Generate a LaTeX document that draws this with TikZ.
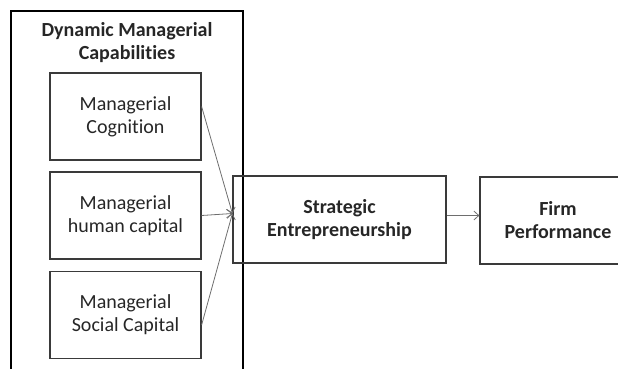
\documentclass[tikz,border=0pt]{standalone}
\usepackage{fontspec}
\setmainfont{Carlito}[Ligatures=NoCommon]
\usetikzlibrary{arrows.meta}
\definecolor{inkgray}{HTML}{3A3A3A}
\definecolor{linkgray}{HTML}{6E6E6E}

\begin{document}
\begin{tikzpicture}[
  x=1pt, y=-1pt,
  capbox/.style ={draw=inkgray, line width=1.2pt, text=black!85,
                  minimum width=151pt, minimum height=87pt,
                  align=center, font=\fontsize{20}{23}\selectfont},
  mainbox/.style={capbox, font=\fontsize{20}{23}\selectfont\bfseries},
  hdr/.style    ={align=center, text=black!85,
                  font=\fontsize{20}{23}\selectfont\bfseries},
  frame/.style  ={draw=black, line width=1.4pt},
  link/.style   ={-{Straight Barb[open, length=5pt, width=9pt]},
                  line width=0.8pt, linkgray},
]
\useasboundingbox (0,0) rectangle (618,369);
\clip (0,0) rectangle (618,369);

% ---------------- left column: the capabilities ----------------
\draw[frame] (11,372) -- (11,11) -- (243,11) -- (243,372);
\node[hdr] (title) at (127,43) {Dynamic Managerial\\Capabilities};

\node[capbox] (cog) at (125.5,116.5) {Managerial\\Cognition};
\node[capbox] (hum) at (125.5,215.5) {Managerial\\human capital};
\node[capbox] (soc) at (125.5,315)   {Managerial\\Social Capital};

% ---------------- right: outcome chain ----------------
\node[mainbox, minimum width=213pt] (se)   at (339.5,219.5)
  {Strategic\\Entrepreneurship};
\node[mainbox, minimum width=156pt] (firm) at (558,220.5)
  {Firm\\Performance};

\coordinate (meet) at ([yshift=6pt]se.west);
\draw[link] ([yshift=10pt]cog.east)  -- (meet);
\draw[link] (hum.east)               -- (meet);
\draw[link] ([yshift=-10pt]soc.east) -- (meet);
\draw[link] ([yshift=4pt]se.east) -- ([yshift=4pt]se.east -| firm.west);

\end{tikzpicture}
\end{document}
